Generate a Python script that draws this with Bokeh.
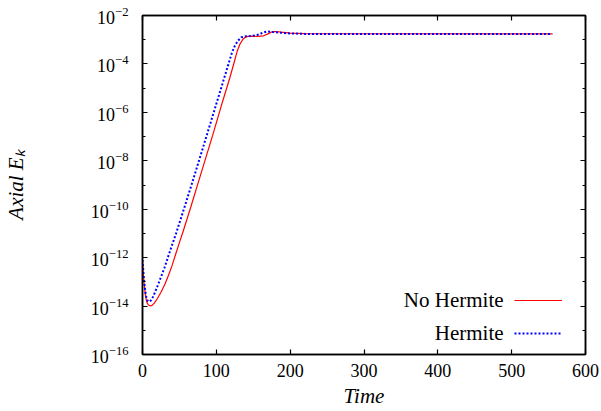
from bokeh.plotting import figure
from bokeh.models import (Range1d, FixedTicker, LinearAxis, LogAxis, Legend, LegendItem, Label)
from bokeh.embed import file_html
from bokeh.resources import INLINE

# ---- data ----
time_no_hermite = [0, 1, 2, 3, 4, 5, 6, 8, 10.8, 13, 16, 20, 25, 30, 35, 40, 45, 50, 55, 65,
                   80, 95, 108.5, 118, 124, 128, 132, 136, 140, 145, 155, 164, 170, 175,
                   180, 188, 200, 220, 555]
ek_no_hermite = [7.08e-13, 2.51e-13, 1.0e-13, 5.01e-14, 2.82e-14, 1.91e-14, 1.41e-14, 1.10e-14,
                 1.0e-14, 1.07e-14, 1.32e-14, 2.0e-14, 3.72e-14, 7.59e-14, 1.78e-13, 4.68e-13,
                 1.41e-12, 4.17e-12, 1.20e-11, 1.12e-10, 3.55e-9, 1.12e-7, 2.82e-6, 2.51e-5,
                 1.12e-4, 3.16e-4, 6.61e-4, 1.05e-3, 1.32e-3, 1.41e-3, 1.38e-3, 1.45e-3,
                 1.74e-3, 2.09e-3, 2.19e-3, 2.04e-3, 1.86e-3, 1.78e-3, 1.74e-3]

time_hermite = [0, 1, 2, 3, 4, 5, 6, 7.5, 9.5, 12, 15, 20, 25, 30, 34.3, 40, 45.5, 56, 68, 80,
                90, 101, 110, 116, 121, 125, 129, 134, 140, 146, 152, 158, 163, 169, 176,
                186, 200, 220, 555]
ek_hermite = [7.94e-13, 3.16e-13, 1.26e-13, 6.31e-14, 3.55e-14, 2.40e-14, 1.86e-14, 1.58e-14,
              1.51e-14, 1.78e-14, 2.69e-14, 6.31e-14, 1.58e-13, 3.98e-13, 1.0e-12, 3.31e-12,
              1.0e-11, 1.0e-10, 1.45e-9, 2.24e-8, 2.24e-7, 2.82e-6, 2.24e-5, 8.91e-5,
              2.82e-4, 5.62e-4, 8.91e-4, 1.26e-3, 1.38e-3, 1.41e-3, 1.51e-3, 1.66e-3,
              1.95e-3, 2.19e-3, 2.09e-3, 1.95e-3, 1.82e-3, 1.74e-3, 1.74e-3]

x_ticks = [0, 100, 200, 300, 400, 500, 600]
y_major_ticks = [1e-16, 1e-14, 1e-12, 1e-10, 1e-8, 1e-6, 1e-4, 1e-2]
y_minor_ticks = [1e-15, 1e-13, 1e-11, 1e-9, 1e-7, 1e-5, 1e-3]

series_names = ["No Hermite", "Hermite"]

FONT = "Liberation Serif"

p = figure(width=601, height=411, output_backend="svg", toolbar_location=None,
           y_axis_type="log", x_range=Range1d(0, 600), y_range=Range1d(1e-16, 1e-2),
           min_border_left=141, min_border_right=16, min_border_top=15, min_border_bottom=57)
p.xgrid.visible = False
p.ygrid.visible = False
p.outline_line_color = "black"
p.outline_line_width = 1.5
p.background_fill_color = "white"
p.border_fill_color = "white"

r_red = p.line(time_no_hermite, ek_no_hermite, line_color="#ff0000", line_width=1.2)
r_blue = p.line(time_hermite, ek_hermite, line_color="#0000ff", line_width=2,
                line_dash="2 2")

# bottom / left axes
xa = p.xaxis[0]
xa.ticker = FixedTicker(ticks=x_ticks)
yb = p.yaxis[0]
yb.ticker = FixedTicker(ticks=y_major_ticks, minor_ticks=y_minor_ticks)

for ax in (xa, yb):
    ax.axis_line_color = "black"
    ax.axis_line_width = 1.5
    ax.major_tick_in = 5
    ax.major_tick_out = 0
    ax.minor_tick_in = 3
    ax.minor_tick_out = 0
    ax.major_tick_line_width = 1.2
    ax.minor_tick_line_width = 1.2
    ax.major_label_text_font = FONT
    ax.major_label_text_font_size = "18px"
    ax.major_label_text_color = "black"
    ax.axis_label_text_font = FONT
    ax.axis_label_text_font_style = "italic"
    ax.axis_label_text_font_size = "21px"
    ax.axis_label_text_color = "black"

xa.minor_tick_line_color = None
xa.major_label_standoff = 9
xa.axis_label = "Time"
xa.axis_label_standoff = 4
yb.major_label_standoff = 14
yb.axis_label = "Axial Eₖ"
yb.axis_label_standoff = 60

# mirrored axes (ticks only, labels hidden)
top = LinearAxis(ticker=FixedTicker(ticks=x_ticks))
right = LogAxis(ticker=FixedTicker(ticks=y_major_ticks, minor_ticks=y_minor_ticks))
for ax in (top, right):
    ax.axis_line_color = "black"
    ax.axis_line_width = 1.5
    ax.major_tick_in = 5
    ax.major_tick_out = 0
    ax.minor_tick_in = 3
    ax.minor_tick_out = 0
    ax.major_tick_line_width = 1.2
    ax.minor_tick_line_width = 1.2
    ax.major_label_text_font_size = "1px"
    ax.major_label_text_color = None
    ax.major_label_standoff = 0
top.minor_tick_line_color = None
p.add_layout(top, "above")
p.add_layout(right, "right")

# legend: samples on the right, text on the left
legend = Legend(items=[LegendItem(label=" ", renderers=[r_red]),
                       LegendItem(label=" ", renderers=[r_blue])],
                location=(372, 11.5), padding=0, margin=0, spacing=13,
                glyph_width=48, glyph_height=20, label_width=1, label_standoff=0,
                label_text_font_size="10px", background_fill_alpha=0,
                border_line_alpha=0)
p.add_layout(legend, "center")

p.add_layout(Label(x=489, y=1.86e-14, text=series_names[0], text_align="right",
                   text_baseline="middle", text_font=FONT, text_font_size="21px",
                   text_color="black"))
p.add_layout(Label(x=489, y=8.1e-16, text=series_names[1], text_align="right",
                   text_baseline="middle", text_font=FONT, text_font_size="21px",
                   text_color="black"))

open("out.html", "w").write(file_html(p, INLINE))
